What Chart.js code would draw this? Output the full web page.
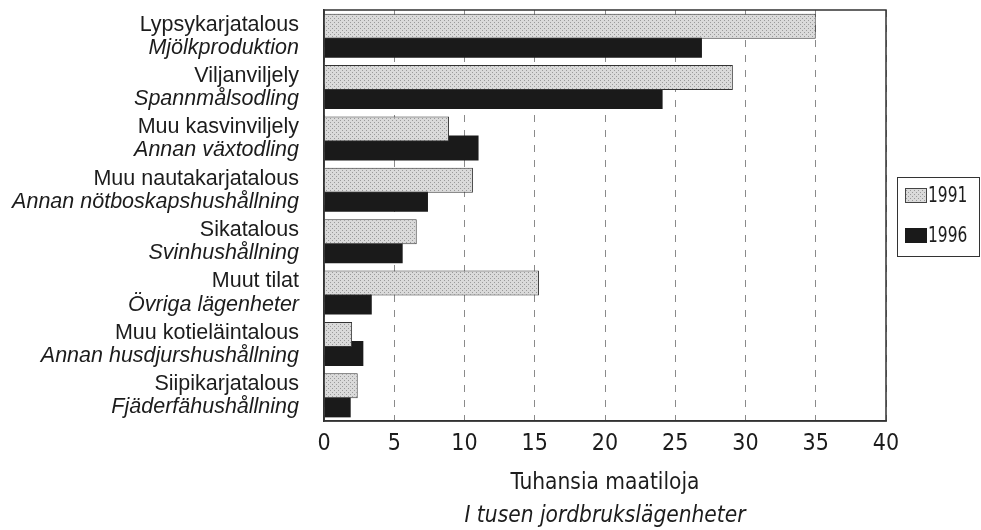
<!DOCTYPE html>
<html>
<head>
<meta charset="utf-8">
<script src="https://cdn.jsdelivr.net/npm/chart.js@4/dist/chart.umd.min.js"></script>
<style>
  html, body { margin: 0; padding: 0; background: #fff; }
  #wrap { width: 981px; height: 530px; position: relative; }
</style>
</head>
<body>
<div id="wrap"><canvas id="chart" width="981" height="530"></canvas></div>
<script>
const labelsFi = ["Lypsykarjatalous", "Viljanviljely", "Muu kasvinviljely", "Muu nautakarjatalous",
  "Sikatalous", "Muut tilat", "Muu kotieläintalous", "Siipikarjatalous"];
const labelsSv = ["Mjölkproduktion", "Spannmålsodling", "Annan växtodling", "Annan nötboskapshushållning",
  "Svinhushållning", "Övriga lägenheter", "Annan husdjurshushållning", "Fjäderfähushållning"];
const values1991 = [35.0, 29.1, 8.9, 10.6, 6.6, 15.3, 2.0, 2.4];
const values1996 = [26.9, 24.1, 11.0, 7.4, 5.6, 3.4, 2.8, 1.9];
const seriesNames = ["1991", "1996"];
const xTicks = [0, 5, 10, 15, 20, 25, 30, 35, 40];
const xTitleFi = "Tuhansia maatiloja";
const xTitleSv = "I tusen jordbrukslägenheter";

const INK = "#1c1c1c";
const NARROW = "'DejaVu Sans Condensed', 'Liberation Sans', sans-serif";
const SANS = "'Liberation Sans', Arial, sans-serif";

// stippled light grey fill for the 1991 bars
function makeStipple(){
  const c = document.createElement("canvas");
  c.width = 4; c.height = 4;
  const g = c.getContext("2d");
  g.fillStyle = "#dadada";
  g.fillRect(0, 0, 4, 4);
  g.fillStyle = "#9a9a9a";
  g.fillRect(0, 0, 1, 1);
  g.fillRect(2, 2, 1, 1);
  return g.createPattern(c, "repeat");
}
const stipple = makeStipple();

const sideLabels = {
  id: "sideLabels",
  afterDraw(chart){
    const ctx = chart.ctx;
    const y = chart.scales.y;
    const area = chart.chartArea;
    ctx.save();
    ctx.fillStyle = INK;
    ctx.textAlign = "right";
    ctx.textBaseline = "middle";
    labelsFi.forEach((fi, i) => {
      const py = y.getPixelForValue(i);
      ctx.font = "21.5px " + SANS;
      ctx.fillText(fi, 299, py - 11);
      ctx.font = "italic 21.5px " + SANS;
      ctx.fillText(labelsSv[i], 299, py + 12);
    });

    // frame round the plot
    ctx.strokeStyle = "#333";
    ctx.lineWidth = 1.5;
    ctx.strokeRect(area.left, area.top, area.right - area.left, area.bottom - area.top);

    // axis title, two lines
    const cx = (area.left + area.right) / 2;
    ctx.textAlign = "center";
    ctx.font = "22.5px " + NARROW;
    ctx.fillText(xTitleFi, cx, 483);
    ctx.font = "italic 22.5px " + NARROW;
    ctx.fillText(xTitleSv, cx, 516);

    // legend
    ctx.lineWidth = 1;
    ctx.strokeStyle = "#333";
    ctx.strokeRect(897.5, 177.5, 82, 79);
    const fills = [stipple, "#1a1a1a"];
    const tops = [188, 228];
    ctx.textAlign = "left";
    ctx.font = "22px " + NARROW;
    seriesNames.forEach((name, i) => {
      ctx.fillStyle = fills[i];
      ctx.fillRect(905, tops[i], 22, 15);
      if (i === 0){
        ctx.strokeStyle = "#444";
        ctx.strokeRect(905.5, tops[i] + 0.5, 21, 14);
      }
      ctx.fillStyle = INK;
      // the original legend font is narrower than anything installed
      ctx.save();
      ctx.translate(928, tops[i] + 8.5);
      ctx.scale(0.78, 1);
      ctx.fillText(name, 0, 0);
      ctx.restore();
    });
    ctx.restore();
  }
};

new Chart(document.getElementById("chart"), {
  type: "bar",
  data: {
    labels: labelsFi,
    datasets: [
      {
        label: seriesNames[0],
        data: values1991,
        backgroundColor: stipple,
        borderColor: "#333",
        borderWidth: 1,
        categoryPercentage: 0.74,
        barPercentage: 1.32
      },
      {
        label: seriesNames[1],
        data: values1996,
        backgroundColor: "#1a1a1a",
        borderWidth: 0,
        categoryPercentage: 0.74,
        barPercentage: 1.32
      }
    ]
  },
  options: {
    indexAxis: "y",
    responsive: false,
    animation: false,
    layout: { padding: { top: 10, right: 95, left: 0, bottom: 0 } },
    plugins: {
      legend: { display: false },
      tooltip: { enabled: false }
    },
    scales: {
      x: {
        min: 0,
        max: 40,
        afterBuildTicks(scale){
          scale.ticks = xTicks.map(v => ({ value: v }));
        },
        afterFit(scale){ scale.height = 109; },
        grid: {
          color: "#8a8a8a",
          lineWidth: 1,
          drawTicks: false
        },
        border: { display: true, color: "#333", width: 1.5, dash: [7, 8] },
        ticks: {
          color: INK,
          padding: 9,
          font: { family: NARROW, size: 23 }
        }
      },
      y: {
        afterFit(scale){ scale.width = 324; },
        grid: { display: false },
        border: { display: true, color: "#333", width: 1.5 },
        ticks: { display: false }
      }
    }
  },
  plugins: [sideLabels]
});
</script>
</body>
</html>
